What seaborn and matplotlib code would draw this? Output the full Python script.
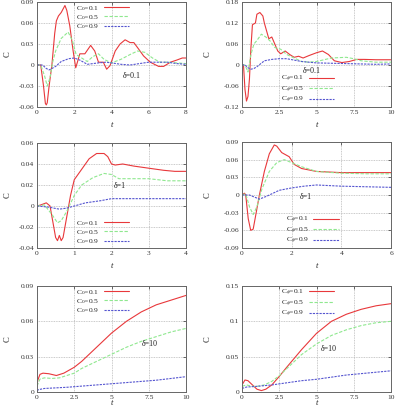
import numpy as np
import pandas as pd
import matplotlib
matplotlib.use("Agg")
import matplotlib.pyplot as plt
import seaborn as sns
from matplotlib.ticker import MultipleLocator, FuncFormatter

sns.set_theme(style="white")
plt.rcParams['font.family'] = ['Liberation Serif', 'DejaVu Serif']
plt.rcParams['mathtext.fontset'] = 'custom'
plt.rcParams['mathtext.rm'] = 'Liberation Serif'
plt.rcParams['mathtext.it'] = 'Liberation Serif:italic'

# ---------------- data ----------------
# Panel 1 (delta = 0.1, left)
t1_a = [0, 0.2, 0.35, 0.45, 0.5, 0.55, 0.65, 0.8, 0.95, 1.04, 1.15, 1.3, 1.5, 1.6, 1.76, 1.94, 2.08, 2.3, 2.57, 2.88, 3.1, 3.3, 3.56, 3.74, 3.92, 4.2, 4.46, 4.73, 5.0, 5.2, 5.45, 5.72, 6.08, 6.53, 6.8, 7.16, 7.5, 7.8, 8.0]
c1_a = [0, 0, -0.03, -0.055, -0.057, -0.054, -0.03, 0.0, 0.045, 0.063, 0.07, 0.075, 0.085, 0.078, 0.056, 0.02, -0.004, 0.016, 0.016, 0.028, 0.02, 0.004, 0.004, -0.006, -0.001, 0.02, 0.03, 0.036, 0.032, 0.032, 0.023, 0.013, 0.004, -0.002, -0.002, 0.004, 0.007, 0.01, 0.01]
t1_b = [0, 0.2, 0.4, 0.55, 0.7, 0.85, 1.0, 1.3, 1.67, 1.9, 2.1, 2.4, 2.7, 3.0, 3.3, 3.6, 4.0, 4.5, 5.0, 5.4, 5.8, 6.2, 6.6, 7.0, 7.5, 8.0]
c1_b = [0, 0, -0.015, -0.03, -0.018, 0.005, 0.02, 0.038, 0.047, 0.035, 0.015, 0.01, 0.005, 0.012, 0.016, 0.008, 0.003, 0.008, 0.015, 0.02, 0.018, 0.01, 0.004, 0.004, 0.003, 0.002]
t1_c = [0, 0.3, 0.5, 0.65, 0.8, 1.0, 1.3, 1.7, 2.0, 2.3, 2.7, 3.0, 3.3, 3.7, 4.0, 4.5, 5.0, 5.5, 6.0, 6.5, 7.0, 7.5, 8.0]
c1_c = [0, 0, -0.005, -0.007, -0.005, -0.002, 0.005, 0.009, 0.01, 0.007, 0.001, 0.002, 0.003, 0.004, 0.003, 0.001, 0.0, 0.002, 0.004, 0.004, 0.004, 0.002, 0.001]

# Panel 2 (delta = 0.1, right)
t2_a = [0, 0.1, 0.2, 0.3, 0.4, 0.5, 0.6, 0.7, 0.9, 1.0, 1.2, 1.4, 1.5, 1.7, 1.8, 2.0, 2.2, 2.4, 2.6, 2.9, 3.2, 3.5, 3.8, 4.1, 4.5, 5.0, 5.4, 5.8, 6.2, 6.7, 7.2, 7.7, 8.2, 9.0, 10.0]
c2_a = [0, 0, -0.07, -0.103, -0.09, -0.04, 0.05, 0.115, 0.12, 0.145, 0.15, 0.14, 0.12, 0.09, 0.075, 0.08, 0.06, 0.04, 0.032, 0.04, 0.03, 0.022, 0.025, 0.02, 0.027, 0.035, 0.04, 0.03, 0.012, 0.007, 0.01, 0.016, 0.016, 0.015, 0.015]
t2_b = [0, 0.2, 0.4, 0.6, 0.8, 1.0, 1.3, 1.6, 1.9, 2.2, 2.6, 3.0, 3.5, 4.0, 4.5, 5.0, 5.5, 6.0, 7.0, 7.5, 8.0, 9.0, 10.0]
c2_b = [0, 0, -0.02, 0.03, 0.06, 0.07, 0.088, 0.08, 0.068, 0.05, 0.045, 0.03, 0.02, 0.01, 0.008, 0.01, 0.015, 0.02, 0.022, 0.018, 0.012, 0.008, 0.008]
t2_c = [0, 0.2, 0.4, 0.6, 0.8, 1.0, 1.5, 2.0, 2.5, 3.0, 3.5, 4.0, 5.0, 6.0, 7.0, 8.0, 9.0, 10.0]
c2_c = [0, 0, -0.008, -0.012, -0.01, -0.005, 0.012, 0.016, 0.018, 0.018, 0.014, 0.01, 0.006, 0.005, 0.004, 0.003, 0.002, 0.003]

# Panel 3 (delta = 1, left)
t3_a = [0, 0.1, 0.25, 0.35, 0.45, 0.5, 0.55, 0.6, 0.65, 0.7, 0.8, 0.9, 1.0, 1.2, 1.4, 1.6, 1.8, 1.9, 2.0, 2.1, 2.3, 2.6, 3.0, 3.4, 3.7, 4.0]
c3_a = [0, 0.001, 0.003, 0.0, -0.02, -0.03, -0.033, -0.028, -0.033, -0.03, -0.01, 0.01, 0.025, 0.035, 0.045, 0.05, 0.05, 0.047, 0.04, 0.039, 0.04, 0.038, 0.036, 0.034, 0.033, 0.033]
t3_b = [0, 0.2, 0.4, 0.55, 0.65, 0.8, 1.0, 1.2, 1.5, 1.8, 2.0, 2.2, 2.5, 3.0, 3.5, 4.0]
c3_b = [0, 0.001, -0.008, -0.016, -0.014, -0.005, 0.01, 0.02, 0.027, 0.031, 0.03, 0.026, 0.026, 0.026, 0.024, 0.024]
t3_c = [0, 0.3, 0.6, 0.8, 1.0, 1.3, 1.7, 2.0, 2.5, 3.0, 4.0]
c3_c = [0, -0.001, -0.003, -0.002, 0.0, 0.003, 0.005, 0.007, 0.007, 0.007, 0.007]

# Panel 4 (delta = 1, right)
t4_a = [0, 0.1, 0.15, 0.25, 0.35, 0.45, 0.55, 0.7, 0.9, 1.1, 1.3, 1.4, 1.6, 1.9, 2.1, 2.4, 3.0, 4.0, 5.0, 6.0]
c4_a = [0, 0.003, 0.0, -0.04, -0.06, -0.058, -0.035, 0.0, 0.04, 0.07, 0.085, 0.083, 0.072, 0.065, 0.052, 0.045, 0.04, 0.038, 0.038, 0.038]
t4_b = [0, 0.15, 0.3, 0.45, 0.6, 0.8, 1.1, 1.4, 1.7, 2.0, 2.4, 3.0, 4.0, 5.0, 6.0]
c4_b = [0, 0.002, -0.02, -0.033, -0.02, 0.01, 0.04, 0.055, 0.06, 0.055, 0.048, 0.04, 0.037, 0.036, 0.036]
t4_c = [0, 0.3, 0.7, 1.0, 1.5, 2.0, 2.5, 3.0, 3.5, 4.0, 5.0, 6.0]
c4_c = [0, 0, -0.007, -0.002, 0.008, 0.012, 0.015, 0.017, 0.016, 0.015, 0.014, 0.013]

# Panel 5 (delta = 10, left)
t5_a = [0, 0.05, 0.2, 0.4, 0.8, 1.3, 1.8, 2.5, 3.0, 4.0, 5.0, 6.0, 7.0, 8.0, 9.0, 10.0]
c5_a = [0.005, 0.01, 0.015, 0.016, 0.0155, 0.014, 0.016, 0.021, 0.026, 0.038, 0.05, 0.06, 0.068, 0.074, 0.078, 0.082]
t5_b = [0, 0.2, 0.5, 1.0, 1.5, 2.0, 2.5, 3.0, 4.0, 5.0, 6.0, 7.0, 8.0, 9.0, 10.0]
c5_b = [0.005, 0.011, 0.012, 0.0115, 0.012, 0.014, 0.016, 0.02, 0.026, 0.032, 0.038, 0.043, 0.047, 0.051, 0.054]
t5_c = [0, 0.1, 0.5, 2.0, 4.0, 6.0, 8.0, 10.0]
c5_c = [0.001, 0.002, 0.003, 0.004, 0.006, 0.008, 0.01, 0.013]

# Panel 6 (delta = 10, right)
t6_a = [0, 0.2, 0.4, 0.7, 1.0, 1.3, 1.6, 2.0, 2.5, 3.0, 4.0, 5.0, 6.0, 7.0, 8.0, 9.0, 10.0]
c6_a = [0.01, 0.017, 0.016, 0.01, 0.004, 0.002, 0.004, 0.01, 0.022, 0.035, 0.06, 0.083, 0.1, 0.11, 0.117, 0.122, 0.125]
t6_b = [0, 0.3, 0.7, 1.0, 1.5, 2.0, 2.5, 3.0, 4.0, 5.0, 6.0, 7.0, 8.0, 9.0, 10.0]
c6_b = [0.008, 0.01, 0.008, 0.008, 0.01, 0.015, 0.023, 0.033, 0.053, 0.068, 0.08, 0.088, 0.094, 0.098, 0.1]
t6_c = [0, 0.3, 1.0, 2.0, 3.0, 4.0, 5.0, 6.0, 7.0, 8.0, 9.0, 10.0]
c6_c = [0.005, 0.007, 0.008, 0.01, 0.013, 0.016, 0.018, 0.021, 0.024, 0.026, 0.028, 0.03]

left_labels = [r"C$_0$=0.1", r"C$_0$=0.5", r"C$_0$=0.9"]
right_labels = [r"C$_\phi$=0.1", r"C$_\phi$=0.5", r"C$_\phi$=0.9"]
delta_labels = ["δ=0.1", "δ=0.1", "δ=1", "δ=1", "δ=10", "δ=10"]

# ---------------- layout ----------------
W, H = 396, 409
fig = plt.figure(figsize=(W / 100, H / 100), dpi=100)

def ax_at(x0, y0, x1, y1):
    return fig.add_axes([x0 / W, 1 - y1 / H, (x1 - x0) / W, (y1 - y0) / H])

panels = [
    dict(box=(37, 2, 186, 107), data=[(t1_a, c1_a), (t1_b, c1_b), (t1_c, c1_c)], labels=left_labels,
         xlim=(0, 8), xstep=2, ylim=(-0.06, 0.09), ystep=0.03, dpos=(4.6, -0.015),
         leg=('upper right', (0.66, 1.04)), ylx=8, tly=125),
    dict(box=(242, 2, 391, 107), data=[(t2_a, c2_a), (t2_b, c2_b), (t2_c, c2_c)], labels=right_labels,
         xlim=(0, 10), xstep=2.5, ylim=(-0.12, 0.18), ystep=0.06, dpos=(4.1, -0.018),
         leg=('lower right', (0.66, -0.04)), ylx=208, tly=125),
    dict(box=(37, 143, 186, 248), data=[(t3_a, c3_a), (t3_b, c3_b), (t3_c, c3_c)], labels=left_labels,
         xlim=(0, 4), xstep=1, ylim=(-0.04, 0.06), ystep=0.02, dpos=(2.05, 0.0195),
         leg=('lower right', (0.66, -0.04)), ylx=8, tly=266),
    dict(box=(242, 142, 391, 248), data=[(t4_a, c4_a), (t4_b, c4_b), (t4_c, c4_c)], labels=right_labels,
         xlim=(0, 6), xstep=2, ylim=(-0.09, 0.09), ystep=0.03, dpos=(2.33, -0.003),
         leg=('lower right', (0.69, -0.04)), ylx=208, tly=266),
    dict(box=(37, 286, 186, 392), data=[(t5_a, c5_a), (t5_b, c5_b), (t5_c, c5_c)], labels=left_labels,
         xlim=(0, 10), xstep=2.5, ylim=(0, 0.09), ystep=0.03, dpos=(7.0, 0.0405),
         leg=('upper right', (0.66, 1.04)), ylx=8, tly=403),
    dict(box=(242, 286, 391, 392), data=[(t6_a, c6_a), (t6_b, c6_b), (t6_c, c6_c)], labels=right_labels,
         xlim=(0, 10), xstep=2.5, ylim=(0, 0.15), ystep=0.05, dpos=(5.3, 0.061),
         leg=('upper right', (0.66, 1.04)), ylx=208, tly=403),
]

colors = ['#e8383b', '#8fe88f', '#5555d0']
dash_styles = ['', (3, 1.5), (2, 1)]
fmt = FuncFormatter(lambda v, p: f"{round(v, 6):g}")
FS = 5.4

for i, p in enumerate(panels):
    x0, y0, x1, y1 = p['box']
    ax = ax_at(x0, y0, x1, y1)
    frames = []
    for (tt, cc), lab in zip(p['data'], p['labels']):
        frames.append(pd.DataFrame({'t': tt, 'C': cc, 'series': lab}))
    df = pd.concat(frames, ignore_index=True)
    sns.lineplot(data=df, x='t', y='C', hue='series', style='series',
                 palette=dict(zip(p['labels'], colors)),
                 dashes=dict(zip(p['labels'], dash_styles)),
                 estimator=None, sort=False, linewidth=0.8, ax=ax)
    ax.set_xlim(*p['xlim'])
    ax.set_ylim(*p['ylim'])
    ax.xaxis.set_major_locator(MultipleLocator(p['xstep']))
    ax.yaxis.set_major_locator(MultipleLocator(p['ystep']))
    ax.xaxis.set_major_formatter(fmt)
    ax.yaxis.set_major_formatter(fmt)
    ax.grid(True, color='#b8b8b8', linestyle=(0, (1, 1)), linewidth=0.6)
    ax.tick_params(direction='in', length=2.5, width=0.5, labelsize=FS, pad=2,
                   top=True, right=True, colors='#333333')
    for s in ax.spines.values():
        s.set_color('#666666')
        s.set_linewidth(0.7)
    ax.set_xlabel('')
    ax.set_ylabel('')
    ax.text(p['dpos'][0], p['dpos'][1], delta_labels[i], fontsize=FS + 0.3, color='#222222',
            va='center', ha='left')
    handles, labels = ax.get_legend_handles_labels()
    ax.legend(handles, labels, loc=p['leg'][0], bbox_to_anchor=p['leg'][1], frameon=False,
              markerfirst=False, fontsize=FS, handlelength=3.4, handletextpad=0.6,
              labelspacing=0.05, borderpad=0.3)
    # axis labels
    fig.text(p['ylx'] / W, 1 - ((y0 + y1) / 2) / H, 'C', rotation=90, fontsize=FS + 0.8,
             ha='center', va='center', color='#222222')
    fig.text(((x0 + x1) / 2) / W, 1 - p['tly'] / H, 't', fontsize=FS + 0.8, style='italic',
             ha='center', va='center', color='#222222')

fig.savefig('out.png', dpi=100)
